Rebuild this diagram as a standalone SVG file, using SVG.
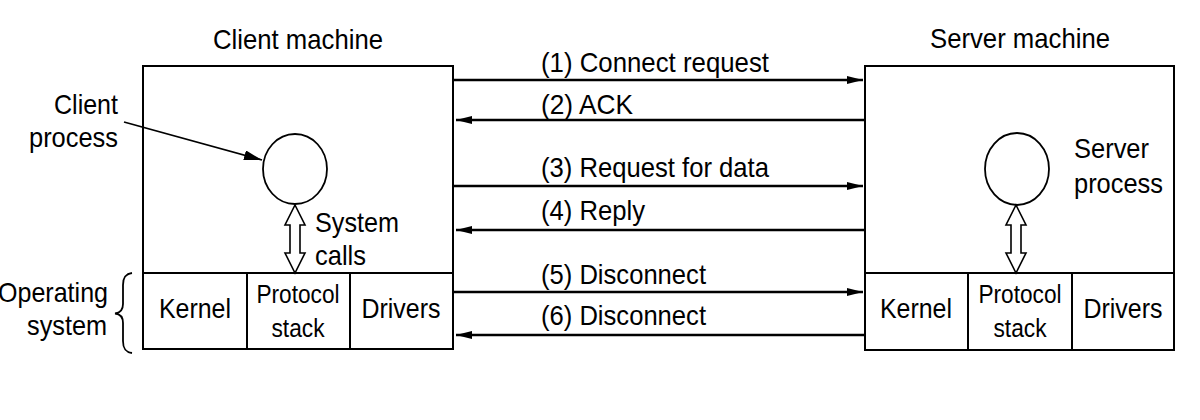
<svg xmlns="http://www.w3.org/2000/svg" xmlns:xlink="http://www.w3.org/1999/xlink" width="1200" height="420" viewBox="0 0 1200 420">
<style>
text{font-family:"Liberation Sans",Arial,Helvetica,sans-serif;fill:#000;font-size:28px}
.sm{font-size:25px}
.mid{text-anchor:middle}
.end{text-anchor:end}
.box{fill:#fff;stroke:#000;stroke-width:2}
.cell{fill:none;stroke:#000;stroke-width:2}
.proc{fill:#fff;stroke:#000;stroke-width:1.8}
.msg{stroke:#000;stroke-width:2.6;fill:none}
.thin{stroke:#000;stroke-width:1.8;fill:none}
.dbl{fill:#fff;stroke:#000;stroke-width:1.6;stroke-linejoin:miter}
</style>
<defs>
<marker id="ah" viewBox="0 0 16 8" refX="16" refY="4" markerWidth="16" markerHeight="8" markerUnits="userSpaceOnUse" orient="auto">
<path d="M0,0 L16,4 L0,8 Z" fill="#000"/>
</marker>
<marker id="ah2" viewBox="0 0 18 10" refX="18" refY="5" markerWidth="18" markerHeight="10" markerUnits="userSpaceOnUse" orient="auto">
<path d="M0,0 L18,5 L0,10 Z" fill="#000"/>
</marker>
<path id="dblarrow" class="dbl" d="M0,0 L10,20 L5,20 L5,48 L10,48 L0,68 L-10,48 L-5,48 L-5,20 L-10,20 Z"/>
</defs>
<g id="client-machine">
<text x="298" y="49" class="mid" textLength="170" lengthAdjust="spacingAndGlyphs">Client machine</text>
<rect class="box" x="143" y="66" width="310" height="283"/>
<line class="cell" x1="143" y1="273" x2="453" y2="273"/>
<line class="cell" x1="247" y1="273" x2="247" y2="349"/>
<line class="cell" x1="350" y1="273" x2="350" y2="349"/>
<text x="195" y="318" class="mid" textLength="72" lengthAdjust="spacingAndGlyphs">Kernel</text>
<text x="298" y="303" class="mid sm" textLength="83" lengthAdjust="spacingAndGlyphs">Protocol</text>
<text x="298" y="337" class="mid sm" textLength="53" lengthAdjust="spacingAndGlyphs">stack</text>
<text x="401" y="318" class="mid" textLength="79" lengthAdjust="spacingAndGlyphs">Drivers</text>
</g>
<g id="client-process">
<ellipse class="proc" cx="295" cy="169" rx="32" ry="35"/>
<use xlink:href="#dblarrow" x="295" y="205"/>
<text x="315" y="232" textLength="84" lengthAdjust="spacingAndGlyphs">System</text>
<text x="315" y="265" textLength="51" lengthAdjust="spacingAndGlyphs">calls</text>
</g>
<g id="client-process-label">
<text x="118" y="114" class="end" textLength="64" lengthAdjust="spacingAndGlyphs">Client</text>
<text x="118" y="147" class="end" textLength="89" lengthAdjust="spacingAndGlyphs">process</text>
<line class="thin" x1="124" y1="122" x2="262" y2="160" marker-end="url(#ah2)"/>
</g>
<g id="os-label">
<text x="108" y="302" class="end" textLength="110" lengthAdjust="spacingAndGlyphs">Operating</text>
<text x="107" y="335" class="end" textLength="80" lengthAdjust="spacingAndGlyphs">system</text>
<path class="thin" d="M132,273 C125,274 123,278 123,285 L123,304 C123,310 120,313 115,313.5 C120,314 123,317 123,323 L123,341 C123,348 125,352 132,353"/>
</g>
<g id="server-machine">
<text x="1020" y="48" class="mid" textLength="180" lengthAdjust="spacingAndGlyphs">Server machine</text>
<rect class="box" x="865" y="66" width="309" height="284"/>
<line class="cell" x1="865" y1="273" x2="1174" y2="273"/>
<line class="cell" x1="968" y1="273" x2="968" y2="350"/>
<line class="cell" x1="1072" y1="273" x2="1072" y2="350"/>
<text x="916" y="318" class="mid" textLength="72" lengthAdjust="spacingAndGlyphs">Kernel</text>
<text x="1020" y="303" class="mid sm" textLength="83" lengthAdjust="spacingAndGlyphs">Protocol</text>
<text x="1020" y="337" class="mid sm" textLength="53" lengthAdjust="spacingAndGlyphs">stack</text>
<text x="1123" y="318" class="mid" textLength="79" lengthAdjust="spacingAndGlyphs">Drivers</text>
</g>
<g id="server-process">
<ellipse class="proc" cx="1017" cy="169" rx="32" ry="36"/>
<use xlink:href="#dblarrow" x="1016" y="205"/>
<text x="1074" y="158" textLength="75" lengthAdjust="spacingAndGlyphs">Server</text>
<text x="1074" y="193" textLength="89" lengthAdjust="spacingAndGlyphs">process</text>
</g>
<g id="connectors">
<line class="msg" x1="454" y1="80" x2="863" y2="80" marker-end="url(#ah)"/>
<line class="msg" x1="864" y1="120" x2="456" y2="120" marker-end="url(#ah)"/>
<line class="msg" x1="454" y1="186" x2="863" y2="186" marker-end="url(#ah)"/>
<line class="msg" x1="864" y1="230" x2="456" y2="230" marker-end="url(#ah)"/>
<line class="msg" x1="454" y1="292" x2="863" y2="292" marker-end="url(#ah)"/>
<line class="msg" x1="864" y1="335" x2="456" y2="335" marker-end="url(#ah)"/>
<text x="541" y="72" textLength="228" lengthAdjust="spacingAndGlyphs">(1) Connect request</text>
<text x="541" y="114" textLength="92" lengthAdjust="spacingAndGlyphs">(2) ACK</text>
<text x="541" y="177" textLength="228" lengthAdjust="spacingAndGlyphs">(3) Request for data</text>
<text x="541" y="220" textLength="104" lengthAdjust="spacingAndGlyphs">(4) Reply</text>
<text x="541" y="284" textLength="165" lengthAdjust="spacingAndGlyphs">(5) Disconnect</text>
<text x="541" y="325" textLength="165" lengthAdjust="spacingAndGlyphs">(6) Disconnect</text>
</g>
</svg>
